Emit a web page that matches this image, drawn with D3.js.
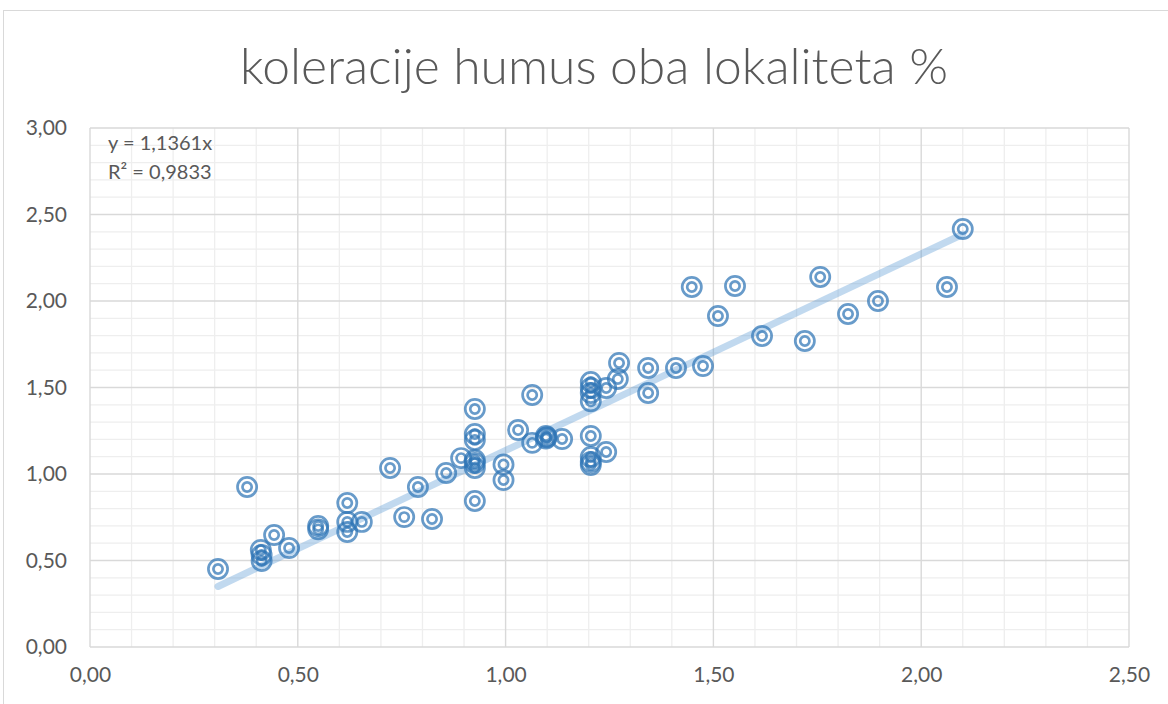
<!DOCTYPE html>
<html>
<head>
<meta charset="utf-8">
<script src="https://cdn.jsdelivr.net/npm/d3@7"></script>
<style>
  html, body { margin: 0; padding: 0; background: #fff; }
  svg { display: block; }
</style>
</head>
<body>
<svg id="chart" width="1168" height="704"></svg>
<script>
// ---- data ----
const title = "koleracije humus oba lokaliteta %";
const equationText = "y = 1,1361x";
const r2Text = "R² = 0,9833";
const slope = 1.1361;
const xTickValues = [0, 0.5, 1.0, 1.5, 2.0, 2.5];
const yTickValues = [0, 0.5, 1.0, 1.5, 2.0, 2.5, 3.0];
const xValues = [
  0.308, 0.378, 0.411, 0.413, 0.413, 0.443, 0.479, 0.549, 0.549,
  0.619, 0.619, 0.619, 0.654, 0.722, 0.756, 0.789, 0.823, 0.857, 0.893,
  0.926, 0.926, 0.926, 0.926, 0.926, 0.926, 0.926,
  0.995, 0.995, 1.030, 1.064, 1.064, 1.097, 1.099, 1.097, 1.136,
  1.205, 1.205, 1.205, 1.205, 1.242,
  1.205, 1.205, 1.205, 1.205, 1.242, 1.273, 1.270,
  1.343, 1.343, 1.410, 1.475, 1.448, 1.552, 1.511, 1.617, 1.720,
  1.757, 1.824, 1.896, 2.062, 2.100
];
const yValues = [
  0.451, 0.925, 0.561, 0.532, 0.497, 0.647, 0.572, 0.699, 0.680,
  0.832, 0.723, 0.665, 0.723, 1.035, 0.751, 0.925, 0.740, 1.006, 1.092,
  1.376, 1.231, 1.197, 1.081, 1.064, 1.035, 0.844,
  1.055, 0.965, 1.254, 1.457, 1.180, 1.220, 1.212, 1.205, 1.202,
  1.220, 1.098, 1.069, 1.052, 1.127,
  1.532, 1.497, 1.468, 1.420, 1.497, 1.642, 1.549,
  1.613, 1.468, 1.613, 1.624, 2.081, 2.087, 1.913, 1.798, 1.769,
  2.139, 1.925, 2.000, 2.081, 2.416
];
const points = xValues.map((x, i) => ({ x, y: yValues[i] }));

// ---- layout ----
const svg = d3.select("#chart");
const plot = { left: 90, right: 1129, top: 128, bottom: 647 };
const x = d3.scaleLinear().domain([0, 2.5]).range([plot.left, plot.right]);
const y = d3.scaleLinear().domain([0, 3]).range([plot.bottom, plot.top]);
const fmt = d => d3.format(".2f")(d).replace(".", ",");
const textColor = "#595959";
const fontFam = "Lato, 'Open Sans', sans-serif";

// chart border
svg.append("rect").attr("x", 3.5).attr("y", 10.5).attr("width", 1180).attr("height", 720)
  .attr("fill", "none").attr("stroke", "#d9d9d9").attr("stroke-width", 1);

// minor gridlines
const minorX = d3.range(0, 2.5001, 0.1).filter(v => Math.abs(v * 2 - Math.round(v * 2)) > 1e-6);
const minorY = d3.range(0, 3.0001, 0.1).filter(v => Math.abs(v * 2 - Math.round(v * 2)) > 1e-6);
const grid = svg.append("g");
grid.selectAll(".mx").data(minorX).join("line")
  .attr("x1", d => x(d)).attr("x2", d => x(d)).attr("y1", plot.top).attr("y2", plot.bottom)
  .attr("stroke", "#eeeeee").attr("stroke-width", 1.3);
grid.selectAll(".my").data(minorY).join("line")
  .attr("y1", d => y(d)).attr("y2", d => y(d)).attr("x1", plot.left).attr("x2", plot.right)
  .attr("stroke", "#eeeeee").attr("stroke-width", 1.3);
// major gridlines
grid.selectAll(".Mx").data(xTickValues).join("line")
  .attr("x1", d => x(d)).attr("x2", d => x(d)).attr("y1", plot.top).attr("y2", plot.bottom)
  .attr("stroke", "#d9d9d9").attr("stroke-width", 1.4);
grid.selectAll(".My").data(yTickValues).join("line")
  .attr("y1", d => y(d)).attr("y2", d => y(d)).attr("x1", plot.left).attr("x2", plot.right)
  .attr("stroke", "#d9d9d9").attr("stroke-width", 1.4);

// axes (labels only)
const yAxis = svg.append("g").attr("transform", `translate(${plot.left},0)`)
  .call(d3.axisLeft(y).tickValues(yTickValues).tickFormat(fmt).tickSize(0).tickPadding(23));
const xAxis = svg.append("g").attr("transform", `translate(0,${plot.bottom})`)
  .call(d3.axisBottom(x).tickValues(xTickValues).tickFormat(fmt).tickSize(0).tickPadding(20));
[yAxis, xAxis].forEach(a => {
  a.select(".domain").remove();
  a.selectAll("text").attr("fill", textColor).style("font-family", fontFam).style("font-size", "21px");
});

// trendline
const xs = d3.extent(xValues);
svg.append("line")
  .attr("x1", x(xs[0])).attr("y1", y(slope * xs[0]))
  .attr("x2", x(xs[1])).attr("y2", y(slope * xs[1]))
  .attr("stroke", "#5b9bd5").attr("stroke-opacity", 0.38)
  .attr("stroke-width", 7).attr("stroke-linecap", "round");

// markers
const mk = svg.append("g");
const markerColor = "#2e75b6";
const pts = mk.selectAll("g").data(points).join("g")
  .attr("transform", d => `translate(${x(d.x)},${y(d.y)})`);
pts.append("circle").attr("r", 9.6).attr("fill", "none")
  .attr("stroke", markerColor).attr("stroke-opacity", 0.72).attr("stroke-width", 2.7);
pts.append("circle").attr("r", 4.6).attr("fill", "none")
  .attr("stroke", markerColor).attr("stroke-opacity", 0.72).attr("stroke-width", 2.7);

// equation
svg.append("text").attr("x", 108).attr("y", 150).text(equationText)
  .attr("fill", textColor).style("font-family", fontFam).style("font-size", "20px");
svg.append("text").attr("x", 108).attr("y", 179).text(r2Text)
  .attr("fill", textColor).style("font-family", fontFam).style("font-size", "20px");

// title
const t = svg.append("text").attr("x", 594).attr("y", 84).attr("text-anchor", "middle")
  .text(title).attr("fill", textColor)
  .style("font-family", fontFam).style("font-weight", 300).style("font-size", "44px");
const w = t.node().getComputedTextLength();
t.style("font-size", (44 * 708 / w).toFixed(1) + "px");
</script>
</body>
</html>
